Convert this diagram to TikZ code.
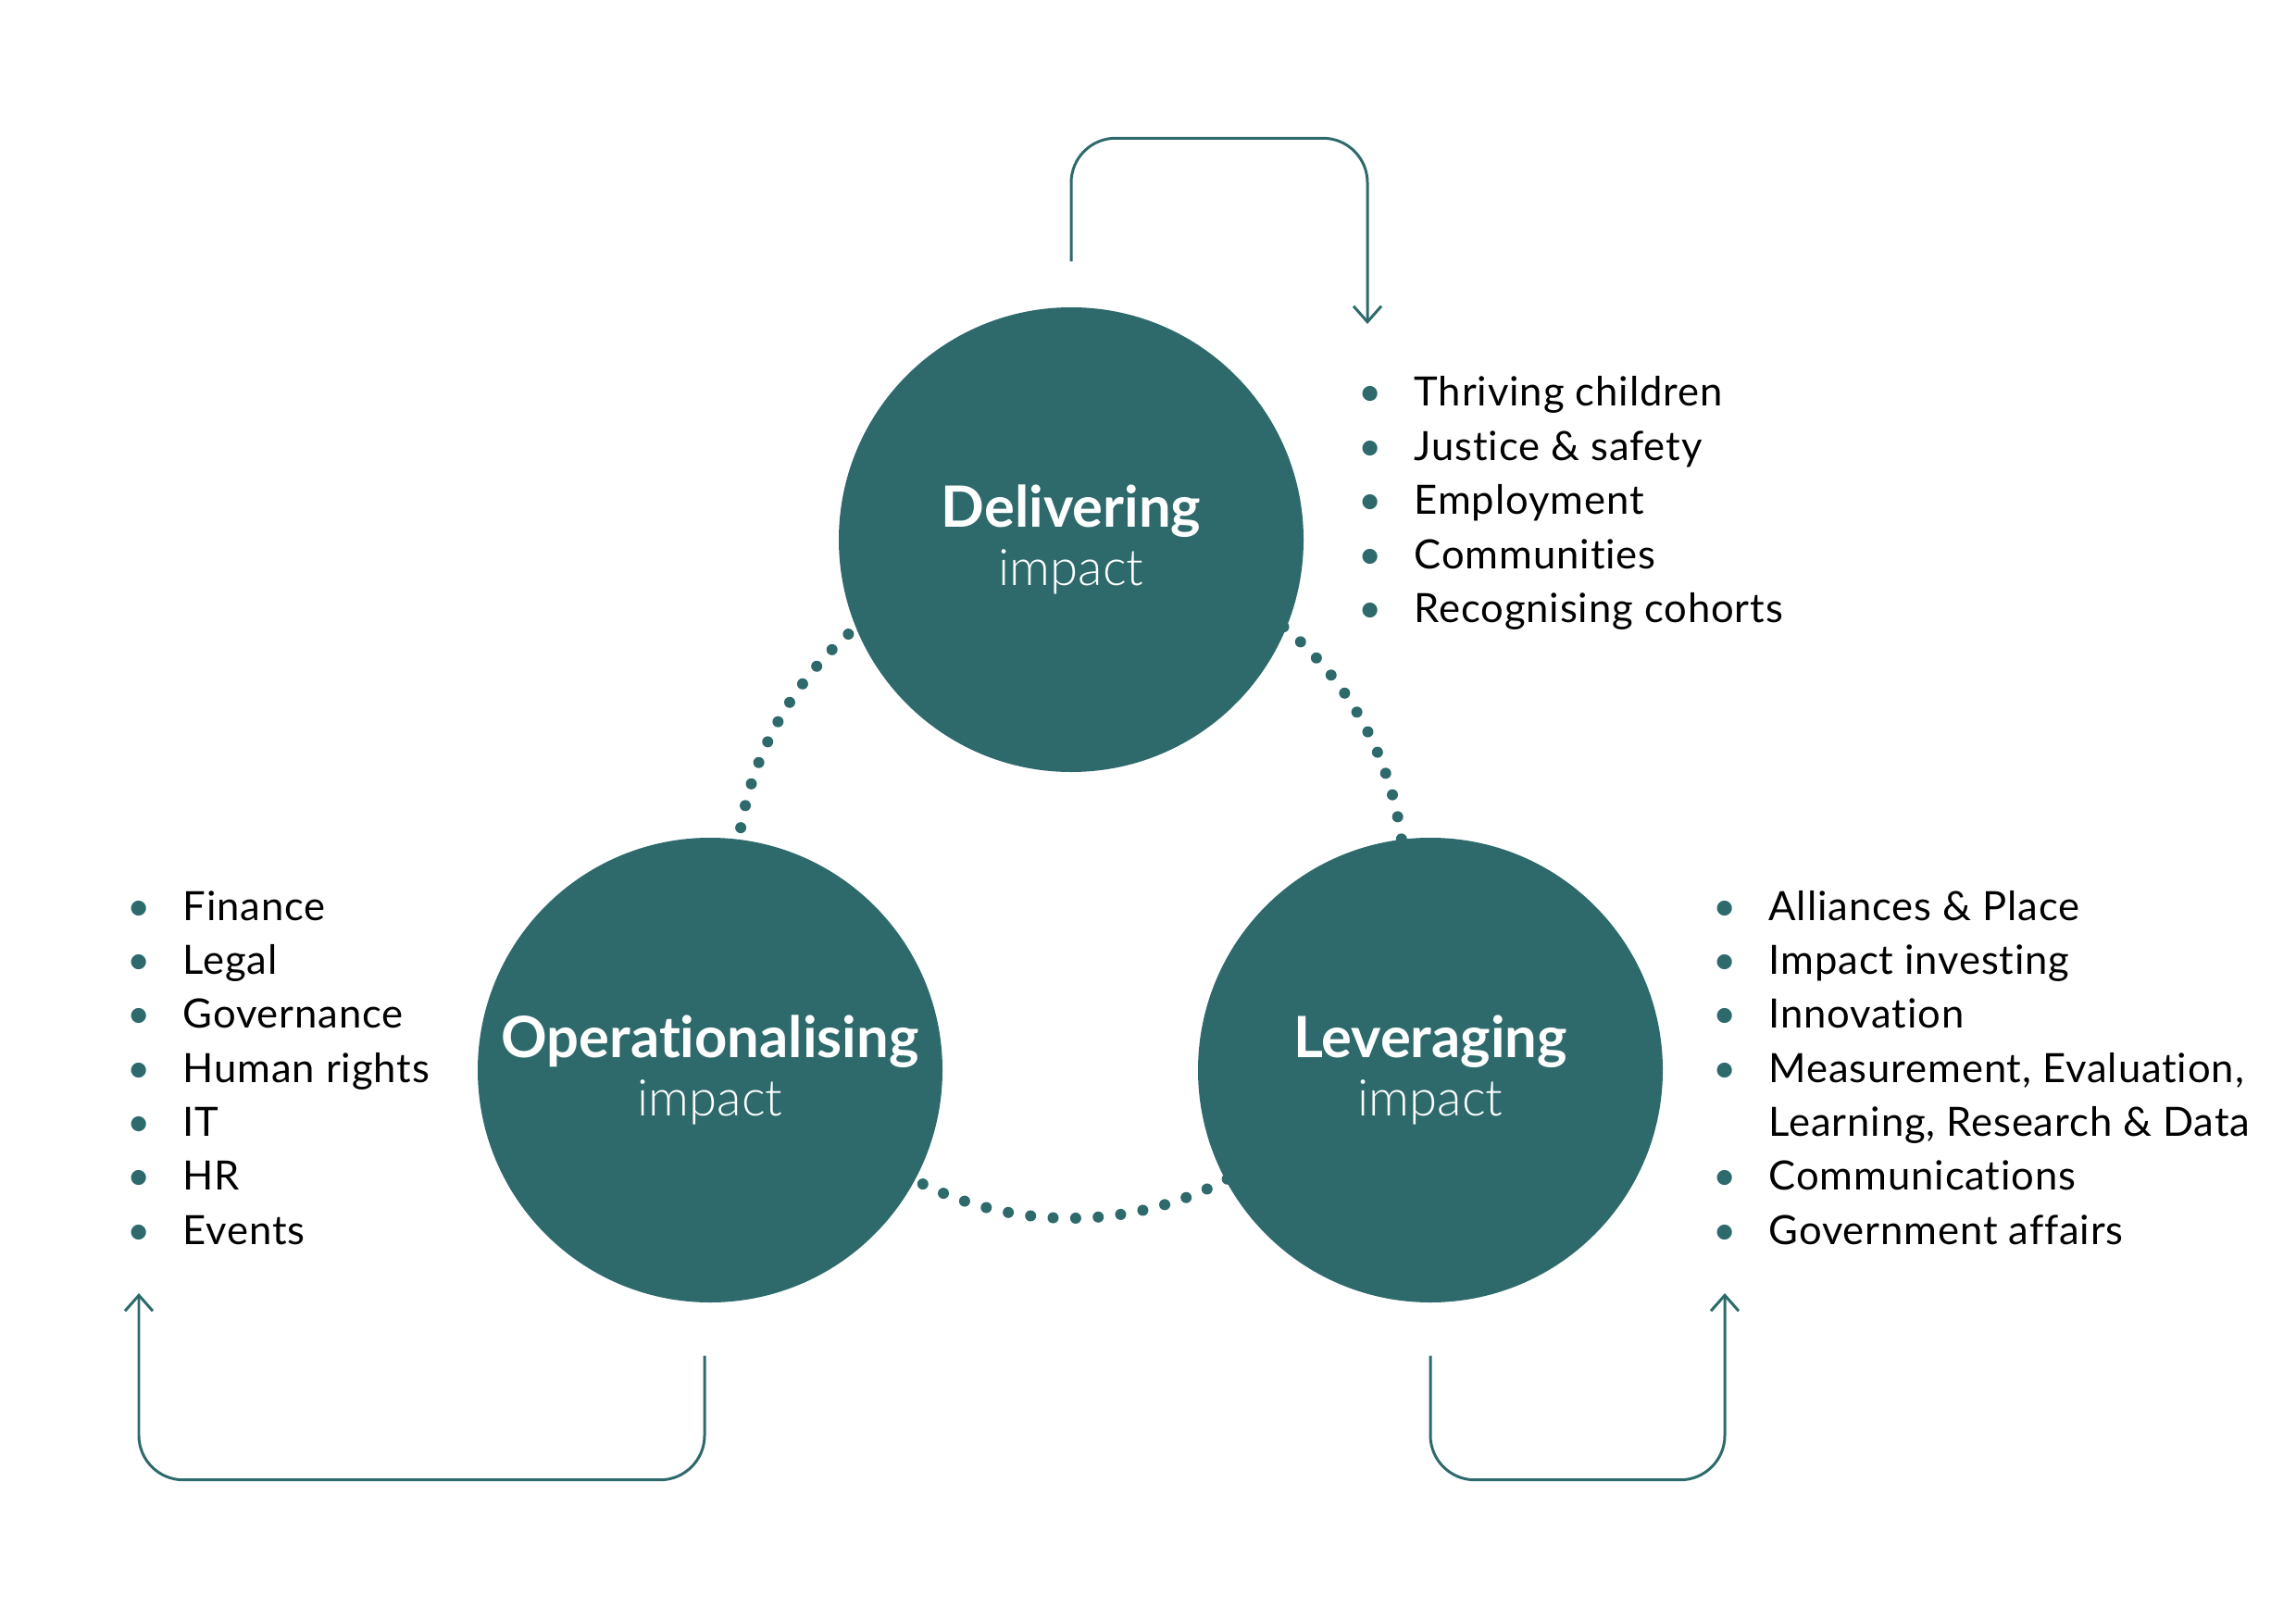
\documentclass[tikz,border=0pt]{standalone}
\usepackage{fontspec}
\setmainfont{Lato}[Ligatures=NoCommon]
\newfontfamily\lightfont{Lato Light}[Ligatures=NoCommon]
\newfontfamily\listfont{Lato}[Ligatures=NoCommon,LetterSpace=2]
\usepackage{xcolor}
\usetikzlibrary{arrows.meta, positioning}
\definecolor{petrol}{RGB}{46,106,108}
\newcommand{\blt}{\makebox[0.55cm][l]{\hspace{-0.05cm}\textcolor{petrol}{•}}}
\newcommand{\nob}{\makebox[0.55cm][l]{}}

\begin{document}
\begin{tikzpicture}[>={Straight Barb[length=1.7mm,width=3mm]},
 every node/.style={inner sep=0pt},
 hub/.style={circle,fill=petrol,minimum size=5.02cm,text=white,align=center,
  font=\fontsize{17.5}{17.9}\selectfont},
 dotring/.style={petrol,line width=0.12cm,line cap=round,dash pattern=on 0pt off 0.2439cm},
 cycleline/.style={petrol,line width=0.85pt,rounded corners=0.48cm},
 itemlist/.style={anchor=base west,font=\listfont\fontsize{12.4}{16.6}\selectfont}]
 \useasboundingbox (0,0) rectangle (24.8,17.48);
 % dotted ring behind the three circles
 \draw[dotring] (11.56,7.93) circle (3.61cm);
 \node[hub] (deliv) at (11.57,11.65) {{\bfseries Delivering}\\{\lightfont\fontsize{15.5}{17.9}\selectfont impact}};
 \node[hub] (oper) at (7.67,5.92) {{\bfseries Operationalising}\\{\lightfont\fontsize{15.5}{17.9}\selectfont impact}};
 \node[hub] (lever) at (15.45,5.92) {{\bfseries Leveraging}\\{\lightfont\fontsize{15.5}{17.9}\selectfont impact}};
 % lists
 \node[itemlist] (dlist) at (14.72,13.09) {\begin{tabular}[t]{@{}l@{}}
  \blt Thriving children\\
  \blt Justice \& safety\\
  \blt Employment\\
  \blt Communities\\
  \blt Recognising cohorts
 \end{tabular}};
 \node[itemlist] (olist) at (1.42,7.54) {\begin{tabular}[t]{@{}l@{}}
  \blt Finance\\
  \blt Legal\\
  \blt Governance\\
  \blt Human rights\\
  \blt IT\\
  \blt HR\\
  \blt Events
 \end{tabular}};
 \node[itemlist] (llist) at (18.55,7.54) {\begin{tabular}[t]{@{}l@{}}
  \blt Alliances \& Place\\
  \blt Impact investing\\
  \blt Innovation\\
  \blt Measurement, Evaluation,\\
  \nob Learning, Research \& Data\\
  \blt Communications\\
  \blt Government affairs
 \end{tabular}};
 % loops
 \coordinate (dout) at ([yshift=0.49cm]deliv.north);
 \coordinate (din) at (14.77,13.98);
 \coordinate (oout) at ([xshift=-0.06cm,yshift=-0.57cm]oper.south);
 \coordinate (oin) at (1.50,3.51);
 \coordinate (lout) at ([yshift=-0.57cm]lever.south);
 \coordinate (lin) at (18.63,3.51);
 \draw[cycleline,->] (dout) -- ++(0,1.33) -| (din);
 \draw[cycleline,->] (oout) -- ++(0,-1.34) -| (oin);
 \draw[cycleline,->] (lout) -- ++(0,-1.34) -| (lin);
\end{tikzpicture}
\end{document}
